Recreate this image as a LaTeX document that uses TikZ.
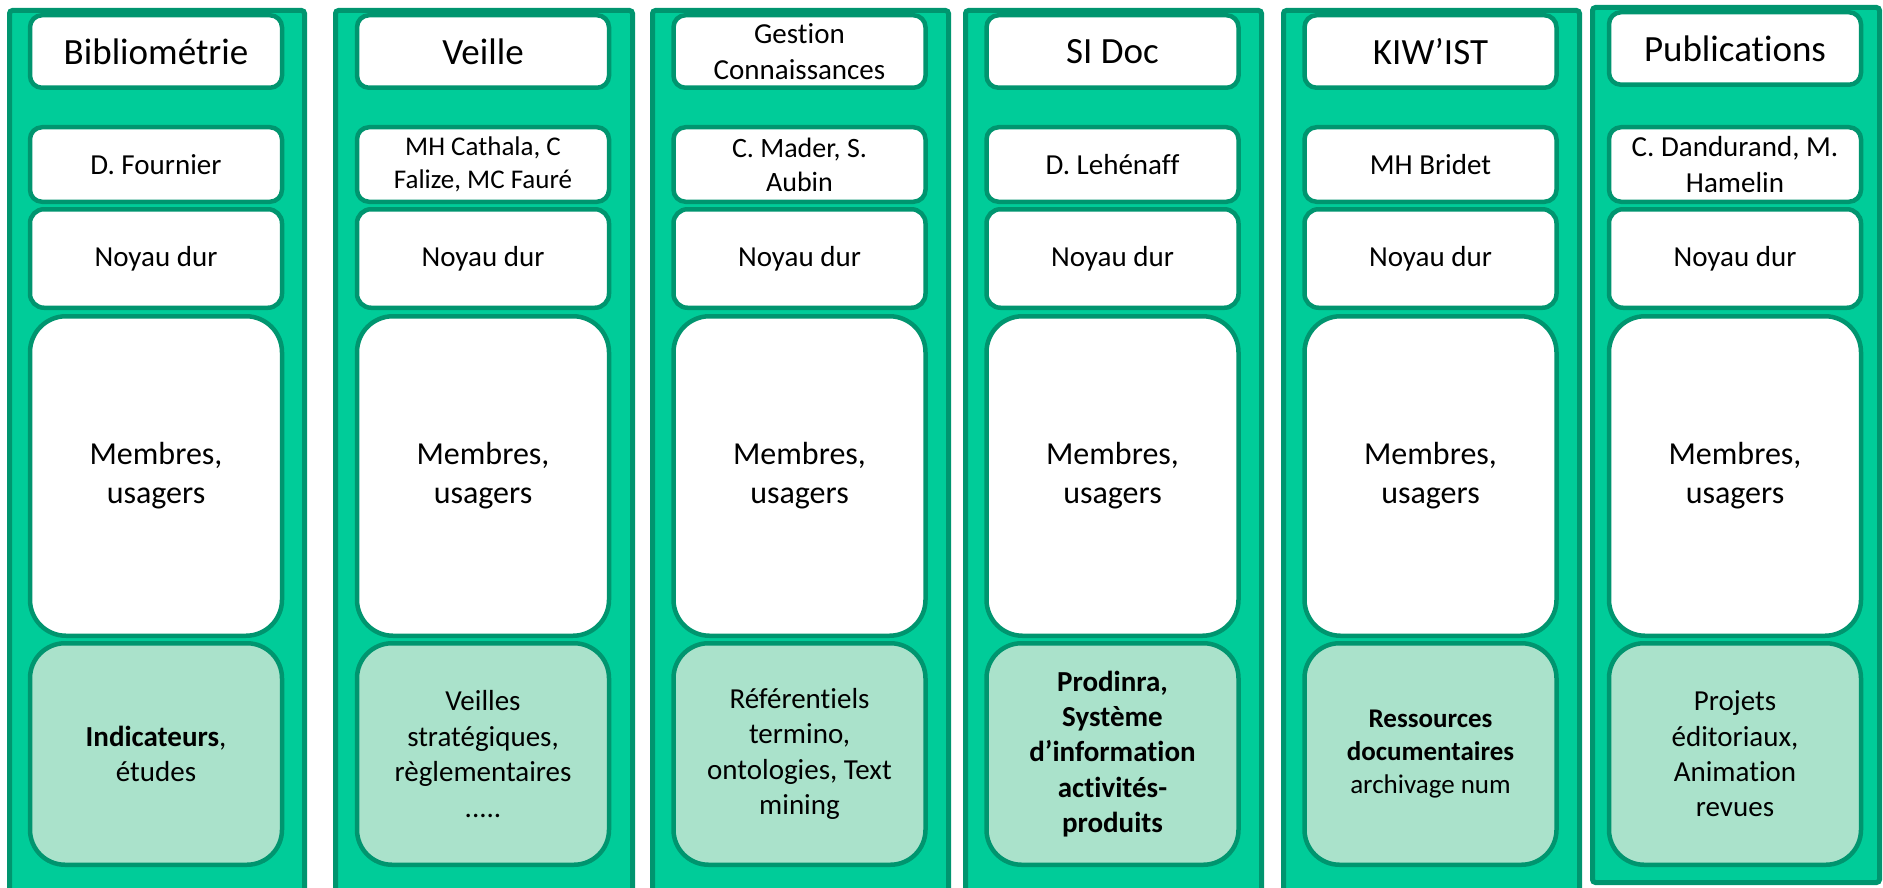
\documentclass[tikz,border=0pt]{standalone}
\usepackage{fontspec}
\setmainfont{Carlito}[Ligatures=NoCommon]
\definecolor{pole}{HTML}{00CC99}
\definecolor{poleedge}{HTML}{00956F}
\definecolor{polepale}{HTML}{AAE2CB}
\newcommand\fz[1]{\fontsize{#1}{\fpeval{1.22*#1}}\selectfont}
\tikzset{
    polebox/.style={fill=pole, draw=poleedge, line width=5pt, rounded corners=3pt, inner sep=0pt},
    card/.style={fill=white, draw=poleedge, line width=4.5pt, align=center, inner sep=0pt, minimum width=252pt},
    actcard/.style={card, fill=polepale, minimum height=221.5pt, rounded corners=35pt}
}
\begin{document}
\begin{tikzpicture}[x=1pt, y=-1pt]
    \useasboundingbox (0,0) rectangle (1883,888);
    \clip (0,0) rectangle (1883,888);
    % one column per pole
    \foreach \xl/\xr/\dy/\yb/\ttl/\tsz/\nm/\nsz/\act/\asz [count=\i] in {
        7/307/0/900/Bibliométrie/37/D. Fournier/29/{\textbf{Indicateurs},\\études}/29,
        333/635/0/900/Veille/37/{MH Cathala, C\\Falize, MC Fauré}/27/{Veilles\\stratégiques,\\règlementaires\\.....}/29,
        650/951/0/900/{Gestion\\Connaissances}/29/{C. Mader, S.\\Aubin}/28/{Référentiels\\termino,\\ontologies, Text\\mining}/29,
        963/1264/0/900/SI Doc/37/D. Lehénaff/29/{\textbf{Prodinra,}\\\textbf{Système}\\\textbf{d’information}\\\textbf{activités-}\\\textbf{produits}}/29,
        1281/1582/0/900/KIW’IST/37/MH Bridet/29/{\textbf{Ressources}\\\textbf{documentaires}\\archivage num}/27,
        1590/1882/-3/885/Publications/37/{C. Dandurand, M.\\Hamelin}/29/{Projets\\éditoriaux,\\Animation\\revues}/29
    }{
        \pgfmathsetmacro\xc{(\xl+\xr)/2-1}
        \node[polebox, minimum width={\xr-\xl-5}, minimum height={\yb-13-\dy}] (pole\i) at ({(\xl+\xr)/2}, {(\yb+8+\dy)/2}) {};
        \node[card, minimum height=72.5pt, rounded corners=12pt, font=\fz{\tsz}] (title\i) at (\xc, 51.5+\dy) {\ttl};
        \node[card, minimum height=74.5pt, rounded corners=12pt, font=\fz{\nsz}] (lead\i) at (\xc, 164.5) {\nm};
        \node[card, minimum height=98.5pt, rounded corners=14pt, font=\fz{29}] (core\i) at (\xc, 258.5) {Noyau dur};
        \node[card, minimum height=319.5pt, rounded corners=36pt, font=\fz{32}] (members\i) at (\xc, 476) {Membres,\\usagers};
        \node[actcard, font=\fz{\asz}] (action\i) at (\xc, 754) {\act};
    }
\end{tikzpicture}
\end{document}
